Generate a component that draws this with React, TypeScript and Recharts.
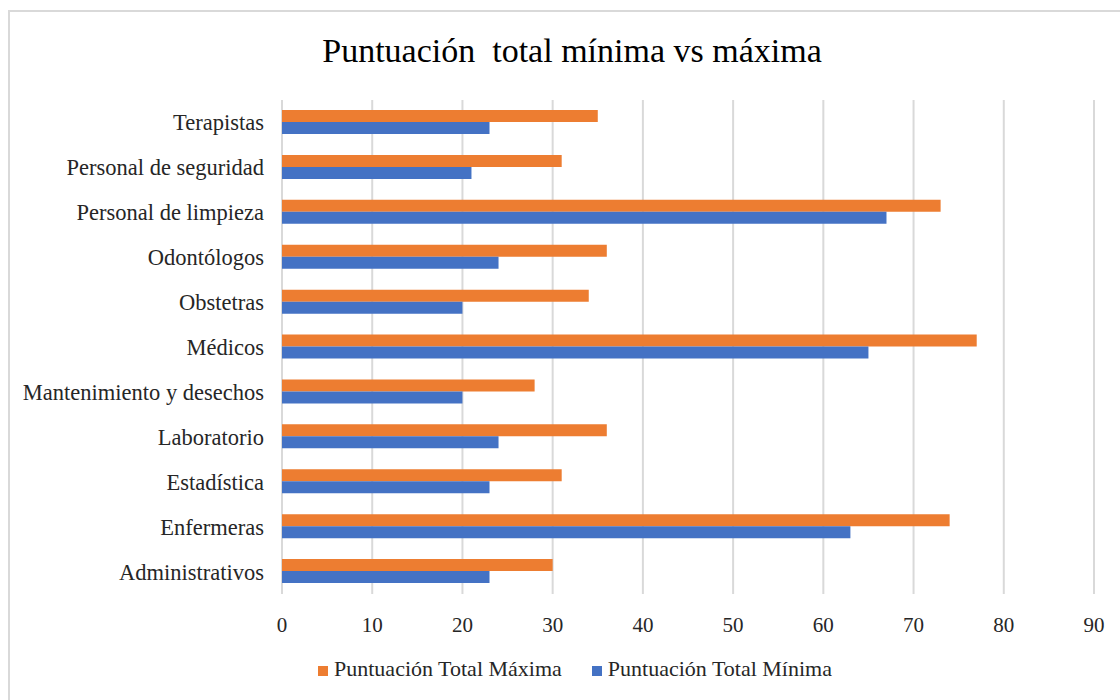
import { BarChart, Bar, XAxis, YAxis, CartesianGrid, Legend } from 'recharts';

// Staff groups, listed bottom to top as they appear on the axis
const categories = [
  'Administrativos',
  'Enfermeras',
  'Estadística',
  'Laboratorio',
  'Mantenimiento y desechos',
  'Médicos',
  'Obstetras',
  'Odontólogos',
  'Personal de limpieza',
  'Personal de seguridad',
  'Terapistas',
];

const maxScores = [30, 74, 31, 36, 28, 77, 34, 36, 73, 31, 35];
const minScores = [23, 63, 23, 24, 20, 65, 20, 24, 67, 21, 23];

const xTicks = [0, 10, 20, 30, 40, 50, 60, 70, 80, 90];

const data = categories.map((name, i) => ({
  name,
  max: maxScores[i],
  min: minScores[i],
}));

const SERIF = '"Liberation Serif", "Times New Roman", serif';
const ORANGE = '#ED7D31';
const BLUE = '#4472C4';

const legendItems = [
  { label: 'Puntuación Total Máxima', color: ORANGE },
  { label: 'Puntuación Total Mínima', color: BLUE },
];

const renderLegend = () => (
  <div
    style={{
      display: 'flex',
      justifyContent: 'center',
      gap: 30,
      fontFamily: SERIF,
      fontSize: 22,
      color: '#262626',
      lineHeight: '24px',
    }}
  >
    {legendItems.map((item) => (
      <div key={item.label} style={{ display: 'flex', alignItems: 'baseline' }}>
        <span
          style={{
            display: 'inline-block',
            width: 10,
            height: 10,
            background: item.color,
            marginRight: 6,
          }}
        />
        <span>{item.label}</span>
      </div>
    ))}
  </div>
);

export default function App() {
  return (
    <>
      <style>{'body { margin: 0; }'}</style>
      <div
        style={{
          position: 'relative',
          marginTop: 10,
          marginLeft: 8,
          width: 1112,
          height: 690,
          boxSizing: 'border-box',
          borderLeft: '2px solid #d9d9d9',
          borderTop: '2px solid #d9d9d9',
          background: '#fff',
          overflow: 'hidden',
        }}
      >
        <div
          style={{
            position: 'absolute',
            top: 20,
            left: 0,
            width: 1124,
            textAlign: 'center',
            fontFamily: SERIF,
            fontSize: 34,
            color: '#000',
            whiteSpace: 'pre',
          }}
        >
          {'Puntuación  total mínima vs máxima'}
        </div>
        <BarChart
          width={1110}
          height={688}
          data={data}
          layout="vertical"
          barSize={12}
          barGap={0}
          margin={{ top: 88, right: 26, bottom: 52, left: 0 }}
        >
          <CartesianGrid horizontal={false} stroke="#d9d9d9" strokeWidth={2} />
          <XAxis
            type="number"
            domain={[0, 90]}
            ticks={xTicks}
            axisLine={false}
            tickLine={false}
            tickMargin={17}
            tick={{ fontFamily: SERIF, fontSize: 21, fill: '#262626' }}
          />
          <YAxis
            type="category"
            dataKey="name"
            reversed
            width={272}
            axisLine={false}
            tickLine={false}
            tickMargin={12}
            interval={0}
            tick={{ fontFamily: SERIF, fontSize: 22.5, fill: '#262626' }}
          />
          <Legend
            content={renderLegend}
            wrapperStyle={{ position: 'absolute', top: 645, left: 10, width: 1110 }}
          />
          <Bar dataKey="max" fill={ORANGE} isAnimationActive={false} />
          <Bar dataKey="min" fill={BLUE} isAnimationActive={false} />
        </BarChart>
      </div>
    </>
  );
}
